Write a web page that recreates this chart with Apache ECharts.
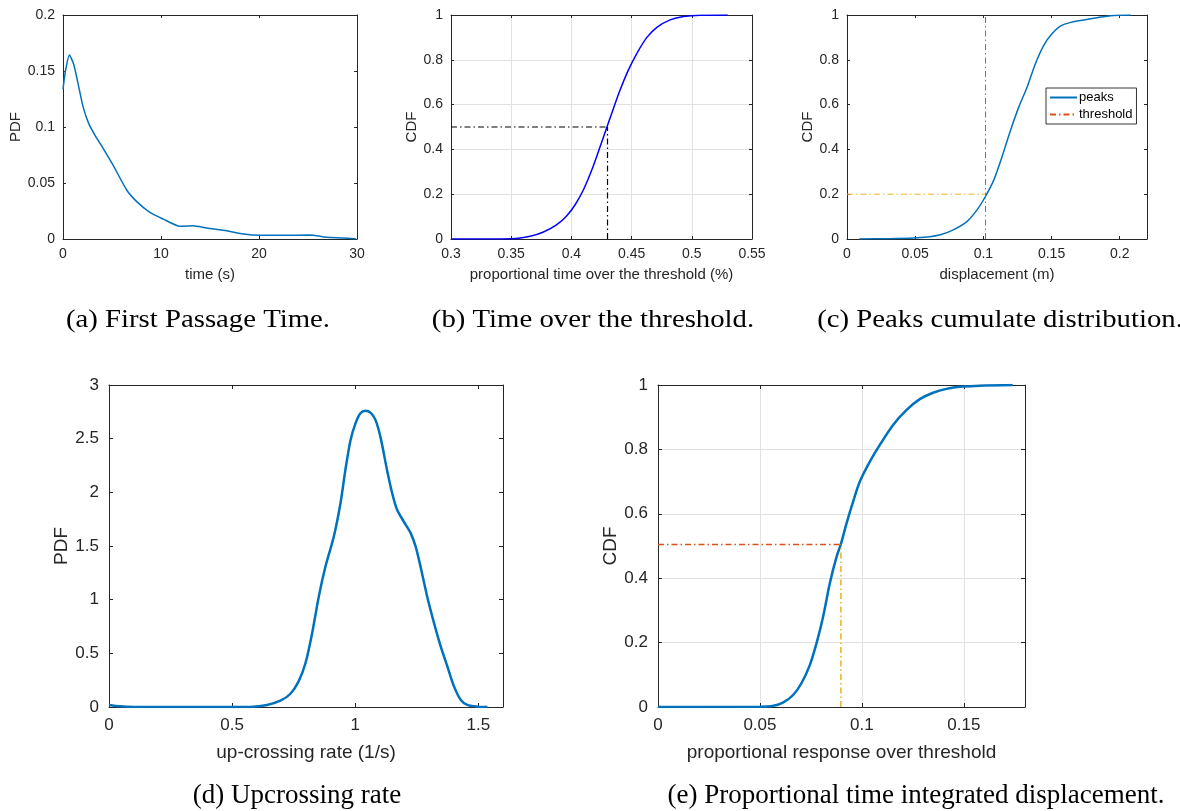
<!DOCTYPE html>
<html>
<head>
<meta charset="utf-8">
<script src="https://cdn.jsdelivr.net/npm/echarts@6/dist/echarts.min.js"></script>
<style>
html,body{margin:0;padding:0;background:#fff;}
#chart{width:1180px;height:811px;}
</style>
</head>
<body>
<div id="chart"></div>
<script>
// ---------------- DATA ----------------
// (a) First passage time PDF
const fptTime = [0, 0.24, 0.65, 1.09, 1.53, 2.05, 2.63, 3.24, 4.09, 5.11, 6.48, 7.5, 8.86, 10.23, 11.93, 13.3, 14.66, 16.7, 18.4, 20.1, 22.5, 25.2, 26.9, 28.6, 29.9];
const fptPdf  = [0.1337, 0.1495, 0.1643, 0.156, 0.139, 0.118, 0.103, 0.093, 0.081, 0.066, 0.044, 0.0336, 0.0238, 0.0178, 0.0113, 0.0119, 0.0098, 0.0074, 0.0045, 0.0033, 0.0033, 0.0036, 0.0015, 0.0009, 0.0];

// (b) Time over the threshold CDF
const totX   = [0.3, 0.3504, 0.3657, 0.3768, 0.3879, 0.3962, 0.4031, 0.41, 0.417, 0.4239, 0.4294, 0.435, 0.4405, 0.4474, 0.4544, 0.4627, 0.471, 0.482, 0.4932, 0.507, 0.5298];
const totCdf = [0, 0.0015, 0.012, 0.031, 0.064, 0.104, 0.153, 0.22, 0.309, 0.413, 0.498, 0.584, 0.666, 0.755, 0.829, 0.9, 0.945, 0.978, 0.993, 0.999, 1.0];
const totMedianX = 0.43;
const totMedianY = 0.5;

// (c) Peaks cumulative distribution
const peaksX   = [0.009, 0.0294, 0.049, 0.0588, 0.0685, 0.0783, 0.0881, 0.0955, 0.1009, 0.1077, 0.1138, 0.12, 0.1261, 0.1322, 0.1383, 0.1444, 0.1506, 0.1567, 0.164, 0.1738, 0.1836, 0.1934, 0.2081];
const peaksCdf = [0, 0.0015, 0.0045, 0.009, 0.019, 0.042, 0.079, 0.131, 0.183, 0.264, 0.369, 0.487, 0.591, 0.68, 0.785, 0.866, 0.918, 0.951, 0.967, 0.978, 0.988, 0.997, 1.0];
const peaksThresholdX = 0.1016;
const peaksThresholdY = 0.2;

// (d) Up-crossing rate PDF
const upRate = [0, 0.045, 0.099, 0.506, 0.587, 0.642, 0.696, 0.736, 0.77, 0.798, 0.825, 0.852, 0.879, 0.913, 0.94, 0.96, 0.981, 1.001, 1.021, 1.042, 1.062, 1.082, 1.102, 1.129, 1.15, 1.17, 1.197, 1.225, 1.245, 1.265, 1.292, 1.32, 1.347, 1.374, 1.401, 1.428, 1.455, 1.496, 1.537];
const upPdf  = [0.019, 0.006, 0, 0, 0.003, 0.019, 0.059, 0.121, 0.239, 0.41, 0.689, 1.03, 1.309, 1.589, 1.899, 2.209, 2.488, 2.643, 2.737, 2.761, 2.743, 2.675, 2.519, 2.209, 1.992, 1.837, 1.728, 1.62, 1.496, 1.309, 1.03, 0.782, 0.565, 0.379, 0.192, 0.068, 0.019, 0.003, 0];

// (e) Proportional response over threshold CDF
const prX   = [0, 0.05, 0.0566, 0.0615, 0.0664, 0.0704, 0.0745, 0.0778, 0.081, 0.0843, 0.0876, 0.0897, 0.0925, 0.0957, 0.099, 0.1039, 0.1088, 0.1153, 0.1218, 0.1284, 0.1349, 0.1414, 0.1495, 0.1577, 0.174];
const prCdf = [0, 0.001, 0.004, 0.0145, 0.038, 0.0745, 0.131, 0.199, 0.281, 0.385, 0.467, 0.506, 0.571, 0.638, 0.7, 0.762, 0.814, 0.876, 0.922, 0.956, 0.976, 0.988, 0.995, 0.998, 1.0];
const prMedianX = 0.0897;
const prMedianY = 0.505;

const captions = ['(a) First Passage Time.', '(b) Time over the threshold.', '(c) Peaks cumulate distribution.', '(d) Upcrossing rate', '(e) Proportional time integrated displacement.'];
const xNames = ['time (s)', 'proportional time over the threshold (%)', 'displacement (m)', 'up-crossing rate (1/s)', 'proportional response over threshold'];
const yNames = ['PDF', 'CDF', 'CDF', 'PDF', 'CDF'];

// ---------------- LAYOUT ----------------
const zip = (xs, ys) => xs.map((x, i) => [x, ys[i]]);
const AX = '#262626';
const SANS = '"Liberation Sans", Arial, Helvetica, sans-serif';
const SERIF = '"Liberation Serif", "Times New Roman", serif';
const MBLUE = '#0072BD', MORANGE = '#D95319', MYELLOW = '#EDB120';
const DASHDOT = [6, 3, 1.5, 3];

const grids = [
  {left: 63, top: 15, width: 294, height: 224},
  {left: 451, top: 15, width: 301, height: 224},
  {left: 847, top: 15, width: 300, height: 224},
  {left: 109, top: 385, width: 394, height: 322},
  {left: 658, top: 385, width: 367, height: 322}
];
// [xmin,xmax,xint, ymin,ymax,yint, grid lines?, small?]
const ranges = [
  [0, 30, 10, 0, 0.2, 0.05, false, true],
  [0.3, 0.55, 0.05, 0, 1, 0.2, true, true],
  [0, 0.22, 0.05, 0, 1, 0.2, false, true],
  [0, 1.6, 0.5, 0, 3, 0.5, false, false],
  [0, 0.18, 0.05, 0, 1, 0.2, true, false]
];
const yNameGap = [40, 31, 32, 33, 30];

const xAxes = [], yAxes = [];
ranges.forEach((r, g) => {
  const small = r[7];
  const tickFs = small ? 14 : 17;
  const nameFs = small ? 15 : 19;
  const tickLen = small ? 3 : 4;
  const base = {
    gridIndex: g, type: 'value',
    axisLine: {show: true, onZero: false, lineStyle: {color: AX, width: 1}},
    axisTick: {show: true, inside: true, length: tickLen, lineStyle: {color: AX, width: 1}},
    splitLine: {show: r[6], lineStyle: {color: '#e2e2e2', width: 1}}
  };
  const steps = r[1] / r[2];
  xAxes.push(Object.assign({}, base, {
    position: 'bottom', min: r[0], max: r[1], interval: r[2],
    name: xNames[g], nameLocation: 'middle', nameGap: small ? 28 : 36,
    nameTextStyle: {fontFamily: SANS, fontSize: nameFs, color: AX},
    axisLabel: {fontFamily: SANS, fontSize: tickFs, color: AX, margin: small ? 8 : 10,
      showMaxLabel: Math.abs(steps - Math.round(steps)) < 1e-9}
  }));
  yAxes.push(Object.assign({}, base, {
    position: 'left', min: r[3], max: r[4], interval: r[5],
    name: yNames[g], nameLocation: 'middle', nameGap: yNameGap[g], nameRotate: 90,
    nameTextStyle: {fontFamily: SANS, fontSize: nameFs, color: AX},
    axisLabel: {fontFamily: SANS, fontSize: tickFs, color: AX, margin: small ? 8 : 10}
  }));
});
// box: top x axes and right y axes (ticks only)
ranges.forEach((r, g) => {
  const tickLen = r[7] ? 3 : 4;
  xAxes.push({
    gridIndex: g, type: 'value', position: 'top', min: r[0], max: r[1], interval: r[2],
    axisLine: {show: true, onZero: false, lineStyle: {color: AX, width: 1}},
    axisTick: {show: true, inside: true, length: tickLen, lineStyle: {color: AX, width: 1}},
    axisLabel: {show: false}, splitLine: {show: false}
  });
  yAxes.push({
    gridIndex: g, type: 'value', position: 'right', min: r[3], max: r[4], interval: r[5],
    axisLine: {show: true, onZero: false, lineStyle: {color: AX, width: 1}},
    axisTick: {show: true, inside: true, length: tickLen, lineStyle: {color: AX, width: 1}},
    axisLabel: {show: false}, splitLine: {show: false}
  });
});

function line(name, g, data, color, width, type, smooth) {
  return {
    name: name, type: 'line', xAxisIndex: g, yAxisIndex: g, data: data,
    symbol: 'none', showSymbol: false, smooth: smooth || false, silent: true, animation: false,
    lineStyle: {color: color, width: width, type: type || 'solid'},
    itemStyle: {color: color}
  };
}

const series = [
  line('fpt', 0, zip(fptTime, fptPdf), MBLUE, 1.5, 'solid', 0.2),
  line('tot', 1, zip(totX, totCdf), '#0000FF', 1.5, 'solid', 0.3),
  line('totH', 1, [[ranges[1][0], totMedianY], [totMedianX, totMedianY]], '#000000', 1.2, DASHDOT),
  line('totV', 1, [[totMedianX, 0], [totMedianX, totMedianY]], '#000000', 1.2, DASHDOT),
  line('peaks', 2, zip(peaksX, peaksCdf), MBLUE, 1.5, 'solid', 0.3),
  line('threshold', 2, [[peaksThresholdX, 0], [peaksThresholdX, 1]], MORANGE, 1, DASHDOT),
  line('peaksH', 2, [[0, peaksThresholdY], [peaksThresholdX, peaksThresholdY]], MYELLOW, 1, DASHDOT),
  line('up', 3, zip(upRate, upPdf), MBLUE, 2.5, 'solid', 0.3),
  line('pr', 4, zip(prX, prCdf), MBLUE, 2.5, 'solid', 0.3),
  line('prH', 4, [[0, prMedianY], [prMedianX, prMedianY]], MORANGE, 1.5, DASHDOT),
  line('prV', 4, [[prMedianX, 0], [prMedianX, prMedianY]], MYELLOW, 1.5, DASHDOT)
];

const capPos = [
  [198, 320, true], [593, 320, true], [1000, 320, true],
  [297, 796, false], [916, 796, false]
];
const graphics = captions.map((t, i) => ({
  type: 'text', x: capPos[i][0], y: capPos[i][1],
  scaleX: capPos[i][2] ? 1.15 : 1,
  style: {text: t, x: 0, y: 0, textAlign: 'center', textVerticalAlign: 'middle',
    font: (capPos[i][2] ? 25 : 27) + 'px ' + SERIF, fill: '#000'}
}));

const option = {
  backgroundColor: '#fff',
  animation: false,
  grid: grids,
  xAxis: xAxes,
  yAxis: yAxes,
  legend: {
    data: ['peaks', 'threshold'], orient: 'vertical',
    left: 1046, top: 88, itemWidth: 27, itemHeight: 12, itemGap: 4,
    padding: [3, 4, 3, 3], borderColor: '#000', borderWidth: 0.8, backgroundColor: '#fff',
    itemStyle: {opacity: 0, borderWidth: 0},
    textStyle: {fontFamily: SANS, fontSize: 13, color: '#000', padding: [0, 0, 0, -3]},
    selectedMode: false
  },
  series: series,
  graphic: graphics
};

const chart = echarts.init(document.getElementById('chart'), null, {renderer: 'canvas'});
chart.setOption(option);
</script>
</body>
</html>
